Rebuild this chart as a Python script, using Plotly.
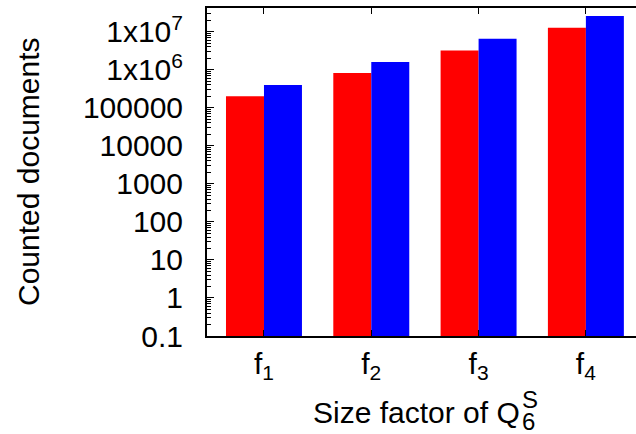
import plotly.graph_objects as go

categories = ["f<sub>1</sub>", "f<sub>2</sub>", "f<sub>3</sub>", "f<sub>4</sub>"]
series_red = [2.0e5, 8.2e5, 3.2e6, 1.27e7]
series_blue = [4.0e5, 1.6e6, 6.5e6, 2.6e7]
ytick_vals = [0.1, 1, 10, 100, 1000, 10000, 100000, 1e6, 1e7]
ytick_text = ["0.1", "1", "10", "100", "1000", "10000", "100000",
              "1x10<sup>6</sup>", "1x10<sup>7</sup>"]

FONT = "Liberation Sans"
FS = 30

L, T, R, B = 207, 8, 636, 336
PW, PH = R - L, B - T


def px(xp):
    return (xp - L) / PW


def py(yp):
    return (B - yp) / PH


x_idx = list(range(len(categories)))

fig = go.Figure()
fig.add_trace(go.Bar(x=x_idx, y=series_red, marker=dict(color="#ff0000", line=dict(width=0)),
                     showlegend=False, hoverinfo="skip"))
fig.add_trace(go.Bar(x=x_idx, y=series_blue, marker=dict(color="#0000ff", line=dict(width=0)),
                     showlegend=False, hoverinfo="skip"))

minor_vals = [m * 10.0 ** e for e in range(-1, 8) for m in range(2, 10)]

fig.update_layout(
    width=636, height=434,
    margin=dict(l=L, r=636 - R, t=T, b=434 - B, autoexpand=False),
    paper_bgcolor="white", plot_bgcolor="white",
    barmode="group", bargap=0.292, bargroupgap=0,
    font=dict(family=FONT, size=FS, color="black"),
    xaxis=dict(
        range=[-0.531, 3.467],
        tickmode="array", tickvals=x_idx, ticktext=categories,
        ticks="inside", ticklen=6, tickwidth=1, tickcolor="black",
        showline=True, linewidth=2, linecolor="black", mirror="ticks",
        showgrid=False, zeroline=False, automargin=False,
        ticklabelstandoff=0,
        tickfont=dict(family=FONT, size=FS),
    ),
    yaxis=dict(
        type="log", range=[-1, 7.624],
        tickmode="array", tickvals=ytick_vals, ticktext=ytick_text,
        ticks="inside", ticklen=7, tickwidth=1, tickcolor="black",
        minor=dict(tickmode="array", tickvals=minor_vals, ticks="inside",
                   ticklen=4, tickwidth=1, tickcolor="black", showgrid=False),
        showline=True, linewidth=2, linecolor="black",
        showgrid=False, zeroline=False, automargin=False,
        ticklabelstandoff=16,
        tickfont=dict(family=FONT, size=FS),
    ),
    annotations=[
        dict(text="Counted documents", xref="paper", yref="paper",
             x=px(28), y=py(172), textangle=-90,
             showarrow=False, xanchor="center", yanchor="middle",
             font=dict(family=FONT, size=FS)),
        dict(text="Size factor of Q", xref="paper", yref="paper",
             x=px(311), y=py(412), xanchor="left", yanchor="middle",
             showarrow=False, font=dict(family=FONT, size=FS)),
        dict(text="S", xref="paper", yref="paper",
             x=px(520), y=py(399), xanchor="left", yanchor="middle",
             showarrow=False, font=dict(family=FONT, size=24)),
        dict(text="6", xref="paper", yref="paper",
             x=px(520), y=py(421), xanchor="left", yanchor="middle",
             showarrow=False, font=dict(family=FONT, size=24)),
    ],
)

fig.write_html("out.html", config={"displayModeBar": False},
               post_script="document.body.style.margin='0';document.body.style.overflow='hidden';")
